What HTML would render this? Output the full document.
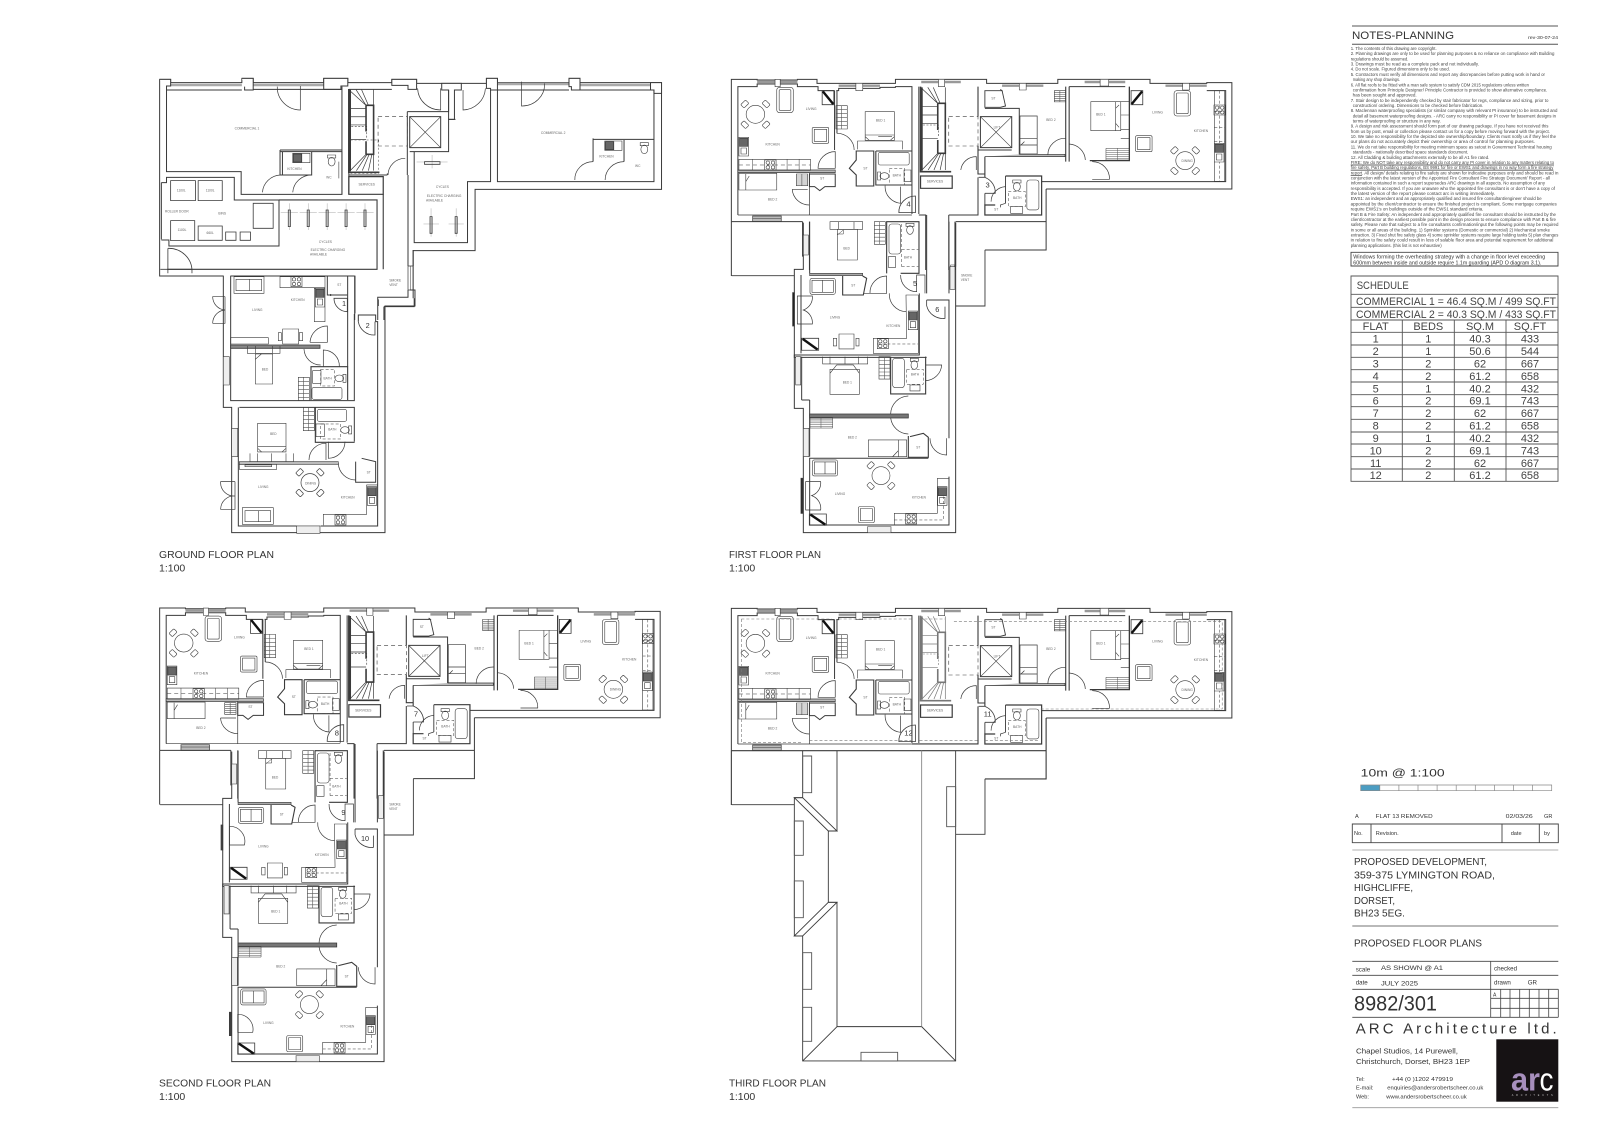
<!DOCTYPE html>
<html><head><meta charset="utf-8"><title>8982/301 Proposed Floor Plans</title>
<style>
html,body{margin:0;padding:0;background:#fff}
svg{display:block}
svg *{vector-effect:non-scaling-stroke}
text{font-family:"Liberation Sans",sans-serif;stroke:none;fill:#333}
.p text{fill:#666;font-size:9.5px;text-anchor:middle}
.p text.b{fill:#333;font-size:22px}
defs text{fill:#666;font-size:9.5px;text-anchor:middle}
.n{font-size:4.4px;fill:#444}
.m{fill:#333}
.s text{fill:#444}
</style></head><body>
<svg width="1600" height="1130" viewBox="0 0 1600 1130" xmlns="http://www.w3.org/2000/svg">
<rect width="1600" height="1130" fill="#fff"/>
<defs>
<g id="din"><circle r="27"/><rect x="-10" y="-7" width="20" height="14" rx="3" transform="translate(31,-31) rotate(45)"/><rect x="-10" y="-7" width="20" height="14" rx="3" transform="translate(-31,-31) rotate(-45)"/><rect x="-10" y="-7" width="20" height="14" rx="3" transform="translate(31,31) rotate(-45)"/><rect x="-10" y="-7" width="20" height="14" rx="3" transform="translate(-31,31) rotate(45)"/></g>
<g id="sofaV"><rect width="48" height="76" rx="8" fill="#fff"/><rect x="7" y="7" width="34" height="62" rx="3"/></g>
<g id="sofaH"><rect width="76" height="48" rx="6" fill="#fff"/><rect x="6" y="6" width="64" height="36"/><path d="M38,6V42"/></g>
<g id="chair"><rect width="48" height="48" rx="4" fill="#fff"/><rect x="6" y="6" width="36" height="36"/></g>
<g id="hob"><rect width="33" height="30"/><circle cx="9" cy="8" r="5"/><circle cx="24" cy="8" r="5"/><circle cx="9" cy="22" r="5"/><circle cx="24" cy="22" r="5"/></g>
<g id="sink"><rect width="28" height="56" fill="#fff"/><rect x="2" y="3" width="24" height="24" fill="#666"/><rect x="6" y="32" width="16" height="18"/></g>
<g id="wc"><rect x="-12" y="-20" width="24" height="9"/><ellipse rx="10" ry="13"/></g>
<g id="rack"><rect width="33" height="70"/><path d="M0,12H33M0,24H33M0,36H33M0,48H33M0,60H33M16,0V70" stroke="#555"/></g>
<g id="flue"><rect width="34" height="42"/><path d="M2,2L32,40" stroke="#111" stroke-width="2.4"/></g>
<g id="bed"><rect width="85" height="86"/><path d="M0,70H85M0,75L12,86M85,75L73,86"/></g>

<g id="stairs">
<path d="M583,50V305H672M633,100H655V250H633M587,52V302M633,100V180M633,210V250" stroke-width="1.6"/>
<path d="M587,56L633,100M604,52L633,100M620,52L640,100M655,52V100M587,110H633M587,135H633M587,160H633M587,205H633M587,300L633,250M605,300L636,250M622,300L642,250M640,300L650,250M655,300V250" stroke-width=".7"/>
<path d="M590,165H635V200" stroke-dasharray="2 1.5" stroke-width=".6"/>
</g>

<!-- common upper block of flats, reference grid of first floor -->
<g id="U">
<path d="M33,455V28H108V30H225V28H282V40H510V28H775V40H982V28H1250V40H1415V38H1488V357H948" stroke-width="1"/>
<path d="M52,435V50H108V42H225V50H285V62H333M338,62H345V55H465V52H510V50H558V432M578,50V432" stroke-width="1"/>
<path d="M108,36H225M345,47H465M585,36H700M820,47H940M1060,36H1178M1295,47H1415" stroke="#999" stroke-width="2.4"/>
<path d="M160,28h15v22h-15zM395,40h20v22h-20zM635,28h18v22h-18zM870,40h20v20h-20zM1105,28h25v20h-25zM1345,40h20v20h-20z" fill="#fff" stroke-width=".6"/>
<path d="M333,62V240M340,62V190" stroke-width="1"/>
<path d="M52,300H335V308H52zM260,308V435M52,435H558M95,438H178V455H95z" fill="#bbb" stroke-width=".7"/>
<path d="M96,445H178" stroke-width=".5"/>
<use href="#din" x="103" y="133" stroke-width=".6"/>
<use href="#sofaV" x="165" y="52" stroke-width=".6"/>
<use href="#flue" x="297" y="62"/>
<use href="#rack" x="337" y="107" stroke-width=".6"/>
<use href="#chair" x="268" y="172" stroke-width=".6"/>
<use href="#bed" x="422" y="125" stroke-width=".6"/>
<path d="M400,238V213H530V238M460,200H500" stroke-width=".6"/>
<rect x="55" y="268" width="208" height="33" stroke-width=".6"/>
<path d="M55,285H263" stroke-dasharray="4 3" stroke-width=".5"/>
<path d="M95,268V301M195,268V301M230,268V301" stroke-width=".5"/>
<use href="#hob" x="130" y="270" stroke-width=".6"/>
<use href="#sink" x="55" y="202" stroke-width=".6"/>
<path d="M55,310H165V360H55zM75,312V360M85,318L75,335" stroke-width=".6"/>
<use href="#rack" transform="translate(222,312) scale(1,.5)" stroke-width=".6"/>
<path d="M260,312H335V350H305L290,362L275,350H260z" stroke-width="1"/>
<path d="M285,295A50,50 0 0 1 335,245V295zM340,190A50,50 0 0 1 390,240" stroke-width=".7"/>
<path d="M210,358A50,50 0 0 0 260,405M210,358H255" stroke-width=".7"/>
<path d="M396,243H447V348H396V315L376,295L396,270z" stroke-width="1.1"/>
<path d="M453,243H558M453,243V345H558" stroke-width="1.1"/>
<rect x="460" y="247" width="90" height="38" rx="6" stroke-width=".6"/>
<use href="#wc" transform="translate(478,318) rotate(-90)" stroke-width=".6"/>
<rect x="535" y="300" width="20" height="35" stroke-width=".6"/>
<rect x="492" y="295" width="45" height="50" stroke-dasharray="3 2" stroke-width=".5"/>
<path d="M480,347A50,50 0 0 0 525,400V350" stroke-width=".7"/>
<path d="M520,428A48,48 0 0 1 568,378V428z" stroke-width=".8"/>

<!-- core -->
<rect x="665" y="140" width="85" height="88" stroke-dasharray="4 3" stroke-width=".6"/>
<path d="M750,50V140M750,228V312H770V322M770,260V322" stroke-width="1.1"/>
<rect x="757" y="140" width="91" height="93" stroke-width="1"/>
<path d="M757,140L848,233M848,140L757,233" stroke-width=".6"/>
<path d="M770,115H870V255M750,240H848" stroke-width="1"/>
<path d="M700,300A45,45 0 0 1 745,260V300" stroke-width=".7"/>
<rect x="583" y="318" width="92" height="37" stroke-width="1.2"/>

<!-- right flat -->
<path d="M770,62H820L830,108L815,112H770zM815,58L822,64" stroke-width=".9"/>
<path d="M872,138H922V252H872zM872,205H922M872,225H922M885,215L875,225" stroke-width=".7"/>
<use href="#rack" transform="translate(972,62) scale(1,.48)" stroke-width=".6"/>
<path d="M770,260H1003V253H870" fill="#bbb" stroke-width=".7"/>
<path d="M1005,50V275M1015,50V275" stroke-width="1.1"/>
<path d="M1005,205A50,50 0 0 0 953,255M1015,222A50,50 0 0 1 1062,270M1082,275A50,50 0 0 1 1132,328H1082" stroke-width=".7"/>
<path d="M1015,50H1178" stroke-width="1"/>
<path d="M1078,95H1165V182H1078zM1150,95V182M1160,105L1150,115M1160,172L1150,160" stroke-width=".6"/>
<path d="M1165,95H1190V205H1165M1165,135H1190M1165,178H1190" stroke-width=".6"/>
<use href="#rack" transform="translate(1122,235) scale(2.06,.5)" stroke-width=".5"/>
<path d="M1190,50V272H1075" stroke-width="1.3"/>
<use href="#flue" transform="translate(1229,62) scale(-1,1)"/>
<use href="#sofaV" x="1320" y="62" stroke-width=".6"/>
<use href="#chair" x="1208" y="197" stroke-width=".6"/>
<use href="#din" x="1352" y="272" stroke-width=".6"/>
<rect x="1437" y="62" width="30" height="272" stroke-width=".6"/>
<path d="M1437,125H1467M1437,172H1467M1437,215H1467M1452,62V335" stroke-width=".5" stroke-dasharray="3 2"/>
<use href="#hob" x="1436" y="105" stroke-width=".6"/>
<use href="#sink" x="1437" y="220" stroke-width=".6"/>
<path d="M935,335H1470V62H1415" stroke-width="1"/>
<path d="M830,318H935V435H770V405H800" stroke-width="1.2"/>
<path d="M830,318V400M770,405V370" stroke-width=".9"/>
<path d="M752,322H770A48,48 0 0 1 800,370H770" stroke-width=".8"/>
<rect x="892" y="330" width="35" height="90" rx="8" stroke-width=".6"/>
<use href="#wc" x="863" y="350" stroke-width=".6"/>
<rect x="845" y="410" width="35" height="20" stroke-width=".6"/>
<rect x="838" y="365" width="50" height="45" stroke-dasharray="3 2" stroke-width=".5"/>
<path d="M788,395A45,45 0 0 1 830,350M830,400L815,405V412" stroke-width=".7"/>
</g>

<g id="Ul">
<text x="265" y="120">LIVING</text><text x="467" y="154">BED 1</text><text x="153" y="227">KITCHEN</text><text x="297" y="328">ST</text><text x="423" y="298">ST</text><text x="514" y="319">BATH</text><text x="153" y="391">BED 2</text><text x="625" y="338">SERVICES</text><text x="795" y="88">ST</text><text x="962" y="153">BED 2</text><text x="805" y="175">LIFT</text><text x="1107" y="137">BED 1</text><text x="1272" y="131">LIVING</text><text x="1398" y="186">KITCHEN</text><text x="1358" y="276">DINING</text><text x="864" y="387">BATH</text><text x="803" y="422">ST</text>
</g>

<!-- wing, first-floor reference grid -->
<g id="W">
<path d="M100,38V178H73V595H100V968H557V38" stroke-width="1"/>
<path d="M537,290V685M537,800V945H119V745H475M119,740V620M95,570V440M93,255V195M119,190V35M93,255V430M470,15V250M470,270H537V290" stroke-width="1"/>
<path d="M448,250V435H73V442H470" stroke-width="1"/>
<path d="M537,35V250M557,38V170" stroke-width="1"/>
<path d="M119,570V620M95,570H119" stroke-width="1"/>
<path d="M77,440H92V525H77zM100,655H117V740H100zM293,950H363V968H293zM100,75H115V135H100zM540,170H555V238H540z" fill="#eee" stroke-width=".6"/>
<path d="M119,190H278V197H119z" fill="#aaa" stroke-width=".6"/>
<path d="M180,35H278V58H180zM205,35V58M252,35V58" stroke-width=".6"/>
<rect x="202" y="58" width="60" height="92" stroke-width=".6"/>
<path d="M202,75L220,60M202,72H220V60" stroke-width=".5"/>
<use href="#rack" transform="translate(313,35) scale(1,.97)" stroke-width=".6"/>
<path d="M350,190V35H447V190H392" stroke-width="1.1"/>
<rect x="357" y="42" width="35" height="90" rx="8" stroke-width=".6"/>
<use href="#wc" x="420" y="60" stroke-width=".6"/>
<rect x="355" y="140" width="22" height="32" stroke-width=".6"/>
<path d="M395,118H445M395,170H445M395,42V170" stroke-dasharray="3 2" stroke-width=".5"/>
<path d="M392,195A48,48 0 0 0 440,245V195H465V250" stroke-width=".7"/>
<path d="M218,197V255H280L290,205L278,198" stroke-width="1.1"/>
<path d="M300,250A50,50 0 0 1 350,198V250H280" stroke-width=".7"/>
<path d="M358,250A52,52 0 0 0 408,305" stroke-width=".7"/>
<path d="M408,255H445V430H310V385H410z" stroke-width=".6"/>
<use href="#sink" x="415" y="303" stroke-width=".6"/>
<use href="#hob" x="322" y="386" stroke-width=".6"/>
<path d="M322,402H445" stroke-dasharray="3 2" stroke-width=".5"/>
<use href="#sofaH" x="120" y="205" stroke-width=".6"/>
<use href="#flue" transform="translate(95,385) scale(1.5,.85)"/>
<path d="M207,372H252V417H207zM190,385H200V408H190zM258,385H267V408H258z" stroke-width=".6"/>
<path d="M158,440V462H293V440M180,440V462M225,440V462M265,440V462" stroke-width=".6"/>
<path d="M180,478H268V553H180zM180,490L200,465H250L268,490" stroke-width=".6"/>
<use href="#rack" transform="translate(327,440) scale(1,.96)" stroke-width=".6"/>
<path d="M362,440V552H467V440" stroke-width="1.1"/>
<rect x="368" y="445" width="35" height="88" rx="8" stroke-width=".6"/>
<use href="#wc" x="433" y="465" stroke-width=".6"/>
<rect x="420" y="525" width="30" height="18" stroke-width=".6"/>
<rect x="410" y="478" width="50" height="45" stroke-dasharray="3 2" stroke-width=".5"/>
<path d="M467,465H515A50,50 0 0 1 467,512" stroke-width=".7"/>
<path d="M119,612H415V624H119z" fill="#777" stroke-width=".8"/>
<path d="M415,558A55,55 0 0 0 362,612M362,624A55,55 0 0 0 415,672" stroke-width=".7"/>
<use href="#rack" transform="translate(120,622) scale(2.06,.46)" stroke-width=".5"/>
<path d="M295,690H410V740H295zM385,690V740M368,740L385,722" stroke-width=".6"/>
<path d="M415,678V742H475V682L460,670L420,680" stroke-width="1.1"/>
<path d="M480,685A50,50 0 0 0 530,735V685" stroke-width=".7"/>
<use href="#sofaH" x="127" y="750" stroke-width=".6"/>
<use href="#din" x="333" y="797" stroke-width=".6"/>
<use href="#flue" transform="translate(118,912) scale(1.5,.8)"/>
<use href="#chair" x="265" y="890" stroke-width=".6"/>
<path d="M502,805H537M502,805V910H373V945" stroke-width=".6"/>
<use href="#hob" x="407" y="912" stroke-width=".6"/>
<use href="#sink" x="503" y="830" stroke-width=".6"/>
<path d="M373,930H520V860" stroke-dasharray="3 2" stroke-width=".5"/>
<path d="M470,270V287A50,50 0 0 0 525,325V290" stroke-width=".8"/>
<text x="230" y="119">BED</text><text x="414" y="145">BATH</text><text x="250" y="229">ST</text><text x="195" y="325">LIVING</text><text x="370" y="351">KITCHEN</text><text x="232" y="520">BED 1</text><text x="435" y="497">BATH</text><text x="247" y="686">BED 2</text><text x="445" y="716">ST</text><text x="210" y="855">LIVING</text><text x="447" y="865">KITCHEN</text><text x="590" y="200">SMOKE</text><text x="585" y="213">VENT</text>
</g>
</defs>

<!-- GROUND UPPER -->
<g class="p" transform="translate(150,60) scale(.344,.3333)" fill="none" stroke="#3a3a3a" stroke-width=".8">
<path d="M213,648H28V58H60V68H267V55H300V68H505V55H575V68H703V58H775V70H848V70H905V70H978V55H1010V68H1218V55H1250V68H1455V68H1487V388H945V572H765V715M235,648H595" stroke-width="1"/>
<path d="M60,75H267M300,75H505M1010,72H1218M1250,75H1455" stroke="#aaa" stroke-width="2.6"/>
<path d="M28,58H60V78H48V90M267,55H300V90H275V80M505,55H575V78H555V88H505zM703,58H775V88H750V76H703zM848,70H905V90H885V178H868V90H848zM978,55H1010V90H990V85H978zM1218,55H1250V90H1225V80H1218zM1455,68H1487V100H1465V90H1455z" fill="#fff" stroke-width="1"/>
<path d="M48,90V335H265V403H558V88H505M48,90H267M300,88H505M558,80V403M578,88V403" stroke-width="1"/>
<path d="M437,78V150A68,68 0 0 1 370,80" stroke-width=".7"/>
<path d="M378,270H558M378,275H558M378,270V345H385V275M470,275V345H385M558,275V403" stroke-width="1"/>
<path d="M327,397A55,55 0 0 1 380,345M415,397A55,55 0 0 1 470,345" stroke-width=".7"/>
<rect x="415" y="280" width="50" height="28" stroke-width=".6"/><rect x="417" y="282" width="24" height="24" fill="#666"/>
<use href="#wc" x="528" y="305" stroke-width=".6"/><path d="M549,305V355" stroke-width=".6"/>
<path d="M33,368H48V352H245V420H375V558H55V540H33M33,368V538" stroke-width="1"/>
<path d="M60,362h72v60h-72zM140,362h70v60h-70zM60,482h70v60h-70zM140,498h70v43h-70zM220,516h30v25h-30zM262,516h30v25h-30zM300,430h58v75h-58z" stroke-width=".8"/>
<path d="M375,420H660V628H50M678,403V628" stroke-width="1.1"/>
<path d="M52,565V640M52,565A68,68 0 0 1 122,635M30,628H122M122,640V628" stroke-width=".8"/>
<g stroke-width=".5" stroke="#aaa"><path d="M380,458H430M405,430V510M435,458H485M460,430V510M490,458H540M515,430V510M545,458H595M570,430V510M600,458H650M625,430V510M775,306H865M820,285V325M795,492H840M817,445V530M868,492H912M890,445V530"/></g>
<path d="M402,450h6v50h-6zM457,450h6v50h-6zM512,450h6v50h-6zM567,450h6v50h-6zM622,450h6v50h-6zM798,305h45v8h-45zM814,470h6v50h-6zM887,470h6v50h-6z" stroke-width=".8"/>
<use href="#stairs" transform="translate(-5,38) scale(1,.98)" stroke-width=".8"/>
<path d="M583,240H665V340H583" stroke-dasharray="2 2" stroke-width=".5"/>
<rect x="578" y="350" width="100" height="53" stroke-width="1.2"/>
<path d="M578,345H690M690,345V340M578,88H703" stroke-width="1"/>
<rect x="663" y="170" width="85" height="88" stroke-dasharray="4 3" stroke-width=".6"/>
<rect x="755" y="170" width="90" height="93" stroke-width="1"/>
<path d="M755,170L845,263M845,170L755,263" stroke-width=".6"/>
<path d="M748,155H868V90M748,155V345M748,263V345M755,275H868V178H888" stroke-width="1"/>
<path d="M692,345A50,50 0 0 1 742,295" stroke-width=".7"/>
<path d="M768,275V548H923V365H990V90M1010,90V365H1465V90H1250M1010,90H1218M750,345V618M765,570V618" stroke-width="1"/>
<path d="M750,618H765V690H750z" stroke-width=".7"/><path d="M758,618V690" stroke-width=".5"/>
<path d="M750,690V712H662V780M595,648V780M680,740H768V715M680,740V780" stroke-width="1"/>
<path d="M778,85A67,67 0 0 0 845,150V85M910,90V150A68,68 0 0 0 975,85M1147,70A65,65 0 0 1 1080,138V65" stroke-width=".7"/>
<path d="M1288,238H1465M1288,235V305M1378,240V305" stroke-width="1"/>
<path d="M1235,360A53,53 0 0 1 1288,305M1323,360A55,55 0 0 1 1378,305" stroke-width=".7"/>
<rect x="1322" y="243" width="50" height="28" stroke-width=".6"/><rect x="1324" y="245" width="24" height="24" fill="#666"/>
<use href="#wc" x="1437" y="268" stroke-width=".6"/>
<text x="282" y="209">COMMERCIAL 1</text><text x="420" y="330">KITCHEN</text><text x="520" y="356">WC</text><text x="1172" y="222">COMMERCIAL 2</text><text x="1327" y="292">KITCHEN</text><text x="1418" y="321">WC</text><text x="630" y="377">SERVICES</text><text x="78" y="457">ROLLER DOOR</text><text x="210" y="463">BINS</text><text x="510" y="549">CYCLES</text><text x="517" y="573">ELECTRIC CHARGING</text><text x="490" y="587">AVAILABLE</text><text x="850" y="384">CYCLES</text><text x="855" y="411">ELECTRIC CHARGING</text><text x="827" y="425">AVAILABLE</text><text x="713" y="664">SMOKE</text><text x="708" y="678">VENT</text><text x="91" y="395">1100L</text><text x="175" y="395">1100L</text><text x="93" y="513">1100L</text><text x="175" y="522">660L</text>
</g>

<!-- GROUND WING -->
<g class="p" transform="translate(210,270) scale(.3333)" fill="none" stroke="#3a3a3a" stroke-width=".8">
<path d="M40,17V412H65V788H525V108H615V60H600" stroke-width="1"/>
<path d="M62,17V392H433V132M88,412H433V515M85,412V768H260M332,768H503V155H497V135H445V155M435,17V130M505,88V108M413,17V290" stroke-width="1"/>
<path d="M62,225H330V235H62z" fill="#888" stroke-width=".8"/>
<path d="M72,20H162V70H72zM78,28H155V62H78zM118,28V62" stroke-width=".6"/>
<path d="M210,20H345V53H210zM313,55H345V155H313z" stroke-width=".6"/>
<use href="#hob" x="243" y="20" stroke-width=".6"/><use href="#sink" x="316" y="55" stroke-width=".6"/>
<path d="M352,17V75H412M362,72V78" stroke-width="1"/>
<path d="M372,85A40,40 0 0 0 412,125V85z" stroke-width=".8"/>
<path d="M445,155A48,48 0 0 0 495,195V155" stroke-width=".8"/>
<path d="M218,177H266V222H218zM205,188H214V212H205zM268,188H278V212H268zM62,203H175V222H62z" stroke-width=".6"/>
<path d="M300,217A52,52 0 0 1 352,168V217H300M282,237A50,50 0 0 0 332,285M340,290V240A48,48 0 0 1 388,290" stroke-width=".7"/>
<path d="M303,390V290H413V390" stroke-width="1.1"/>
<rect x="306" y="352" width="90" height="36" rx="6" stroke-width=".6"/>
<use href="#wc" transform="translate(388,325) rotate(90)" stroke-width=".6"/>
<rect x="308" y="302" width="25" height="38" stroke-width=".6"/>
<rect x="332" y="298" width="42" height="50" stroke-dasharray="3 2" stroke-width=".5"/>
<rect x="136" y="252" width="52" height="90" stroke-width=".6"/>
<path d="M112,228V250H210V228M136,228V250M188,228V250M136,268L154,252" stroke-width=".6"/>
<use href="#rack" x="265" y="322" stroke-width=".6"/><path d="M40,260H58V345H40z" fill="#eee" stroke-width=".6"/>
<path d="M45,80V160H8M45,80H8A40,40 0 0 0 45,120A40,40 0 0 0 8,160" stroke-width=".7"/>
<use href="#bed" x="143" y="460" stroke-width=".6"/>
<path d="M120,550V575H250V550M143,550V575M185,550V575M228,550V575" stroke-width=".6"/>
<use href="#rack" x="280" y="412" stroke-width=".6"/>
<path d="M316,412V517H434" stroke-width="1.1"/>
<rect x="322" y="418" width="88" height="36" rx="6" stroke-width=".6"/>
<use href="#wc" transform="translate(405,480) rotate(90)" stroke-width=".6"/>
<rect x="318" y="462" width="25" height="38" stroke-width=".6"/>
<rect x="332" y="462" width="60" height="45" stroke-dasharray="3 2" stroke-width=".5"/>
<path d="M355,515V565A50,50 0 0 0 405,515M297,570A50,50 0 0 1 348,520V570" stroke-width=".7"/>
<path d="M88,575H385V583H88z" fill="#bbb" stroke-width=".6"/>
<path d="M88,583H200V598H88zM105,585H185V590H105z" stroke-width=".6"/>
<path d="M385,580A52,52 0 0 0 437,630" stroke-width=".7"/>
<path d="M437,575V637H497V575L455,565" stroke-width="1"/>
<use href="#din" x="300" y="638" stroke-width=".7"/>
<path d="M97,713H190V763H97zM105,722H182V755H105zM145,722V755" stroke-width=".6"/>
<path d="M75,635H32A40,40 0 0 0 75,678A40,40 0 0 0 32,718H75V635" stroke-width=".7"/>
<path d="M340,766V733H470V645H503V766" stroke-width=".6"/>
<use href="#hob" x="375" y="735" stroke-width=".6"/><use href="#sink" x="472" y="650" stroke-width=".6"/>
<path d="M260,768H330V790H260zM65,475H83V560H65z" fill="#eee" stroke-width=".6"/>
<text x="142" y="123">LIVING</text><text x="263" y="93">KITCHEN</text><text x="165" y="301">BED</text><text x="353" y="328">BATH</text><text x="388" y="48">ST</text><text x="190" y="495">BED</text><text x="367" y="481">BATH</text><text x="476" y="610">ST</text><text x="302" y="643">DINING</text><text x="160" y="654">LIVING</text><text x="413" y="685">KITCHEN</text>
<text class="b" x="402" y="108">1</text><text class="b" x="473" y="174">2</text>
</g>

<!-- FIRST -->
<g class="p" transform="translate(720,70) scale(.344,.3333)" fill="none" stroke="#3a3a3a" stroke-width=".8">
<use href="#U"/><use href="#stairs" stroke-width="1"/><use href="#Ul"/>
<path d="M33,455H240M685,455H948M948,357V540H770M578,435H598V600M665,435H750V322M665,435V600M683,455V600M240,455V560M260,455V600M33,455V618" stroke-width="1"/>
<path d="M670,585h12v20h-12z" stroke-width=".5"/>
<text class="b" x="778" y="353">3</text><text class="b" x="548" y="410">4</text>
</g>
<g class="p" transform="translate(770,210) scale(.3333)" fill="none" stroke="#3a3a3a" stroke-width=".8">
<use href="#W"/>
<path d="M-115,197H73M645,120V288H557" stroke-width=".9"/>
<rect x="68" y="248" width="5" height="100" fill="#222"/><rect x="93" y="805" width="5" height="105" fill="#222"/>
<path d="M82,258H127A40,40 0 0 1 100,300A40,40 0 0 1 127,342H82zM107,815H152A40,40 0 0 1 125,857A40,40 0 0 1 152,900H107z" stroke-width=".7"/>
<text class="b" x="435" y="228">5</text><text class="b" x="502" y="306">6</text>
</g>

<!-- SECOND -->
<g class="p" transform="translate(148.3,598.7) scale(.344,.3333)" fill="none" stroke="#3a3a3a" stroke-width=".8">
<use href="#U"/><use href="#stairs" stroke-width="1.5"/><use href="#Ul"/>
<path d="M33,455H240M685,455H948M948,357V540H770M578,435H598V600M665,435H750V322M665,435V600M683,455V600M240,455V560M260,455V600M33,455V618" stroke-width="1"/>
<text class="b" x="778" y="353">7</text><text class="b" x="548" y="410">8</text>
</g>
<g class="p" transform="translate(198.4,739) scale(.3333)" fill="none" stroke="#3a3a3a" stroke-width=".8">
<use href="#W"/>
<path d="M-115,197H73M645,120V288H557" stroke-width=".9"/>
<rect x="68" y="258" width="5" height="75" fill="#444"/><rect x="93" y="820" width="5" height="70" fill="#444"/>
<path d="M93,262A45,45 0 0 1 138,318H93zM118,826A45,45 0 0 1 163,880H118z" stroke-width=".7"/>
<text class="b" x="435" y="228">9</text><text class="b" x="500" y="306">10</text>
</g>

<!-- THIRD -->
<g class="p" transform="translate(720,599) scale(.344,.3333)" fill="none" stroke="#3a3a3a" stroke-width=".8">
<use href="#U"/><use href="#stairs" stroke="#777" stroke-width=".6"/><use href="#Ul"/>
<path d="M33,455H948M948,357V540H770M750,322V435H558M33,455V618" stroke-width="1.1"/>
<path d="M62,60H325M345,60H560M580,60H655M680,68H970M1000,68H1175M1230,68H1460V330H930M62,60V430H240M260,425H558M580,425H750M770,425H925" stroke="#777" stroke-width=".6" stroke-dasharray="3 2"/>
<text class="b" x="778" y="353">11</text><text class="b" x="548" y="410">12</text>
</g>
<g class="p" transform="translate(780,730) scale(.3333)" fill="none" stroke="#3a3a3a" stroke-width=".9">
<path d="M68,62V203L43,203V618H68V993H527V62" />
<path d="M171,62V303H145V517H171V890L68,993M171,890H425L527,993"/>
<path d="M425,62V890" stroke="#888"/>
<path d="M43,203L145,303H171L68,203zM43,618L145,517H171L68,618z"/>
<path d="M68,78h27v110h-27zM43,273h27v103h-27zM43,453h27v110h-27zM68,668h27v110h-27zM68,832h27v102h-27zM500,170h27v120h-27zM243,967h110v26h-110z" stroke="#555"/>
<path d="M527,313H615V147M-145,224H43"/>
</g>

<!-- plan titles -->
<text x="159" y="558" font-size="10.5" textLength="115" lengthAdjust="spacingAndGlyphs">GROUND FLOOR PLAN</text>
<text x="159" y="571.5" font-size="10.5">1:100</text>
<text x="729" y="558" font-size="10.5" textLength="92" lengthAdjust="spacingAndGlyphs">FIRST FLOOR PLAN</text>
<text x="729" y="571.5" font-size="10.5">1:100</text>
<text x="159" y="1086.5" font-size="10.5" textLength="112" lengthAdjust="spacingAndGlyphs">SECOND FLOOR PLAN</text>
<text x="159" y="1100" font-size="10.5">1:100</text>
<text x="729" y="1086.5" font-size="10.5" textLength="97" lengthAdjust="spacingAndGlyphs">THIRD FLOOR PLAN</text>
<text x="729" y="1100" font-size="10.5">1:100</text>

<!-- notes -->
<path d="M1352,26H1558M1352,44.3H1558" stroke="#555" stroke-width="1" fill="none"/>
<text x="1352" y="39" font-size="11" textLength="102" lengthAdjust="spacingAndGlyphs" class="m">NOTES-PLANNING</text>
<text x="1528" y="39" font-size="4.6" textLength="30" lengthAdjust="spacingAndGlyphs">rev-30-07-24</text>
<g class="n">
<text class="n" lengthAdjust="spacingAndGlyphs" x="1350.7" y="50" textLength="86">1. The contents of this drawing are copyright.</text>
<text class="n" lengthAdjust="spacingAndGlyphs" x="1350.7" y="55.2" textLength="203.7">2. Planning drawings are only to be used for planning purposes &amp; no reliance on compliance with Building</text>
<text class="n" lengthAdjust="spacingAndGlyphs" x="1350.7" y="60.4" textLength="57.7">regulations should be assumed.</text>
<text class="n" lengthAdjust="spacingAndGlyphs" x="1350.7" y="65.5" textLength="128.3">3. Drawings must be read as a complete pack and not individually.</text>
<text class="n" lengthAdjust="spacingAndGlyphs" x="1350.7" y="70.7" textLength="99.3">4. Do not scale. Figured dimensions only to be used.</text>
<text class="n" lengthAdjust="spacingAndGlyphs" x="1350.7" y="75.9" textLength="194.3">5. Contractors must verify all dimensions and report any discrepancies before putting work in hand or</text>
<text class="n" lengthAdjust="spacingAndGlyphs" x="1352.7" y="81.1" textLength="47.3">making any shop drawings.</text>
<text class="n" lengthAdjust="spacingAndGlyphs" x="1350.7" y="86.3" textLength="178.3">6. All flat roofs to be fitted with a man safe system to satisfy CDM 2015 regulations unless written</text>
<text class="n" lengthAdjust="spacingAndGlyphs" x="1352.7" y="91.4" textLength="194.7">confirmation from Principle Designer/ Principle Contractor is provided to show alternative compliance.</text>
<text class="n" lengthAdjust="spacingAndGlyphs" x="1352.7" y="96.6" textLength="64">has been sought and approved.</text>
<text class="n" lengthAdjust="spacingAndGlyphs" x="1350.7" y="101.8" textLength="197.7">7. Stair design to be independently checked by stair fabricator for regs, compliance and sizing, prior to</text>
<text class="n" lengthAdjust="spacingAndGlyphs" x="1352.7" y="107" textLength="130.7">construction/ ordering. Dimensions to be checked before fabrication.</text>
<text class="n" lengthAdjust="spacingAndGlyphs" x="1350.7" y="112.2" textLength="206.7">8. Maclennan waterproofing specialists (or similar company with relevant PI insurance) to be instructed and</text>
<text class="n" lengthAdjust="spacingAndGlyphs" x="1352.7" y="117.3" textLength="203.3">detail all basement waterproofing designs. - ARC carry no responsibility or PI cover for basement designs in</text>
<text class="n" lengthAdjust="spacingAndGlyphs" x="1352.7" y="122.5" textLength="88">terms of waterproofing or structure in any way.</text>
<text class="n" lengthAdjust="spacingAndGlyphs" x="1350.7" y="127.7" textLength="197.7">9. A design and risk assessment should form part of our drawing package. If you have not received this</text>
<text class="n" lengthAdjust="spacingAndGlyphs" x="1350.7" y="132.9" textLength="199.3">from us by post, email or collection please contact us for a copy before moving forward with the project.</text>
<text class="n" lengthAdjust="spacingAndGlyphs" x="1350.7" y="138.1" textLength="205.3">10. We take no responsibility for the depicted site ownership/boundary. Clients must notify us if they feel the</text>
<text class="n" lengthAdjust="spacingAndGlyphs" x="1350.7" y="143.2" textLength="184.3">our plans do not accurately depict their ownership or area of control for planning purposes.</text>
<text class="n" lengthAdjust="spacingAndGlyphs" x="1350.7" y="148.4" textLength="201">11. We do not take responsibility for meeting minimum space as setout in Government Technical housing</text>
<text class="n" lengthAdjust="spacingAndGlyphs" x="1352.7" y="153.6" textLength="115.7">standards - nationally described space standards document.</text>
<text class="n" lengthAdjust="spacingAndGlyphs" x="1350.7" y="158.8" textLength="138.7">12. All Cladding &amp; building attachments externally to be all A1 fire rated.</text>
<text class="n" lengthAdjust="spacingAndGlyphs" x="1350.7" y="164" textLength="203.3">FIRE: We do NOT take any responsibility and do not carry any PI cover in relation to any matters relating to</text>
<text class="n" lengthAdjust="spacingAndGlyphs" x="1350.7" y="169.1" textLength="202.7">fire safety, Part B building regulations, BS 9991 for fire or EWS1 and drawings in no way form a fire strategy</text>
<text class="n" lengthAdjust="spacingAndGlyphs" x="1350.7" y="174.3" textLength="207.7">report. All design/ details relating to fire safety are shown for indicative purposes only and should be read in</text>
<path d="M1350.7,165H1554M1350.7,170.1H1553.4M1350.7,175.3H1362" stroke="#333" stroke-width=".7" fill="none"/>
<text class="n" lengthAdjust="spacingAndGlyphs" x="1350.7" y="179.5" textLength="199.3">conjunction with the latest version of the Appointed Fire Consultant Fire Strategy Document/ Report - all</text>
<text class="n" lengthAdjust="spacingAndGlyphs" x="1350.7" y="184.7" textLength="194.3">information contained in such a report supersedes ARC drawings in all aspects. No assumption of any</text>
<text class="n" lengthAdjust="spacingAndGlyphs" x="1350.7" y="189.9" textLength="204.3">responsibility is accepted. If you are unaware who the appointed fire consultant is or don't have a copy of</text>
<text class="n" lengthAdjust="spacingAndGlyphs" x="1350.7" y="195" textLength="144.3">the latest version of the report please contact arc in writing immediately.</text>
<text class="n" lengthAdjust="spacingAndGlyphs" x="1350.7" y="200.2" textLength="191">EWS1: an independent and an appropriately qualified and insured fire consultant/engineer should be</text>
<text class="n" lengthAdjust="spacingAndGlyphs" x="1350.7" y="205.4" textLength="206">appointed by the client/contractor to ensure the finished project is compliant. Some mortgage companies</text>
<text class="n" lengthAdjust="spacingAndGlyphs" x="1350.7" y="210.6" textLength="132.7">require EWS1's on buildings outside of the EWS1 standard criteria.</text>
<text class="n" lengthAdjust="spacingAndGlyphs" x="1350.7" y="215.8" textLength="205.3">Part B &amp; Fire Safety: An independent and appropriately qualified fire consultant should be instructed by the</text>
<text class="n" lengthAdjust="spacingAndGlyphs" x="1350.7" y="220.9" textLength="205.3">client/contractor at the earliest possible point in the design process to ensure compliance with Part B &amp; fire</text>
<text class="n" lengthAdjust="spacingAndGlyphs" x="1350.7" y="226.1" textLength="207.7">safety. Please note that subject to a fire consultants confirmation/input the following points may be required</text>
<text class="n" lengthAdjust="spacingAndGlyphs" x="1350.7" y="231.3" textLength="199.3">in some or all areas of the building. 1) Sprinkler systems (Domestic or commercial) 2) Mechanical smoke</text>
<text class="n" lengthAdjust="spacingAndGlyphs" x="1350.7" y="236.5" textLength="207.7">extraction. 3) Fixed shut fire safety glass 4) some sprinkler systems require large holding tanks 5) plan changes</text>
<text class="n" lengthAdjust="spacingAndGlyphs" x="1350.7" y="241.7" textLength="202.7">in relation to fire safety could result in loss of salable floor area and potential requirement for additional</text>
<text class="n" lengthAdjust="spacingAndGlyphs" x="1350.7" y="246.8" textLength="91">planning applications. (this list is not exhaustive)</text>
</g>
<rect x="1351" y="252.3" width="207" height="13.7" fill="none" stroke="#444" stroke-width=".9"/>
<text x="1353.3" y="258.6" font-size="5.6" textLength="192" lengthAdjust="spacingAndGlyphs">Windows forming the overheating strategy with a change in floor level exceeding</text>
<text x="1353.3" y="264.6" font-size="5.6" textLength="188" lengthAdjust="spacingAndGlyphs">600mm between inside and outside require 1.1m guarding (APD O diagram 3.1).</text>

<!-- schedule -->
<g fill="none" stroke="#555" stroke-width=".9">
<rect x="1351" y="276" width="207" height="205.3"/>
<path d="M1351,294.3H1558M1351,307.3H1558M1351,320H1558M1351,332.3H1558M1351,345H1558M1351,357.3H1558M1351,369.7H1558M1351,382H1558M1351,394.7H1558M1351,406.7H1558M1351,419.3H1558M1351,432H1558M1351,444H1558M1351,456.7H1558M1351,469H1558"/>
<path d="M1402.3,320V481.3M1454.3,320V481.3M1506,320V481.3"/>
</g>
<g class="s">
<text x="1356.7" y="289" font-size="11" textLength="52" lengthAdjust="spacingAndGlyphs">SCHEDULE</text>
<text x="1356" y="305" font-size="11" textLength="200" lengthAdjust="spacingAndGlyphs">COMMERCIAL 1 = 46.4 SQ.M / 499 SQ.FT</text>
<text x="1356" y="318" font-size="11" textLength="200" lengthAdjust="spacingAndGlyphs">COMMERCIAL 2 = 40.3 SQ.M / 433 SQ.FT</text>
<g font-size="11" text-anchor="middle">
<text x="1375.7" y="330">FLAT</text><text x="1428.3" y="330">BEDS</text><text x="1480" y="330">SQ.M</text><text x="1530" y="330">SQ.FT</text>
<text x="1375.7" y="342.5">1</text><text x="1428.3" y="342.5">1</text><text x="1480" y="342.5">40.3</text><text x="1530" y="342.5">433</text>
<text x="1375.7" y="355">2</text><text x="1428.3" y="355">1</text><text x="1480" y="355">50.6</text><text x="1530" y="355">544</text>
<text x="1375.7" y="367.4">3</text><text x="1428.3" y="367.4">2</text><text x="1480" y="367.4">62</text><text x="1530" y="367.4">667</text>
<text x="1375.7" y="380">4</text><text x="1428.3" y="380">2</text><text x="1480" y="380">61.2</text><text x="1530" y="380">658</text>
<text x="1375.7" y="392.3">5</text><text x="1428.3" y="392.3">1</text><text x="1480" y="392.3">40.2</text><text x="1530" y="392.3">432</text>
<text x="1375.7" y="404.5">6</text><text x="1428.3" y="404.5">2</text><text x="1480" y="404.5">69.1</text><text x="1530" y="404.5">743</text>
<text x="1375.7" y="417">7</text><text x="1428.3" y="417">2</text><text x="1480" y="417">62</text><text x="1530" y="417">667</text>
<text x="1375.7" y="429.5">8</text><text x="1428.3" y="429.5">2</text><text x="1480" y="429.5">61.2</text><text x="1530" y="429.5">658</text>
<text x="1375.7" y="442">9</text><text x="1428.3" y="442">1</text><text x="1480" y="442">40.2</text><text x="1530" y="442">432</text>
<text x="1375.7" y="454.5">10</text><text x="1428.3" y="454.5">2</text><text x="1480" y="454.5">69.1</text><text x="1530" y="454.5">743</text>
<text x="1375.7" y="466.8">11</text><text x="1428.3" y="466.8">2</text><text x="1480" y="466.8">62</text><text x="1530" y="466.8">667</text>
<text x="1375.7" y="479">12</text><text x="1428.3" y="479">2</text><text x="1480" y="479">61.2</text><text x="1530" y="479">658</text>
</g>
</g>

<!-- scale bar -->
<text x="1360.7" y="776.7" font-size="11" textLength="84" lengthAdjust="spacingAndGlyphs">10m @ 1:100</text>
<rect x="1360.7" y="785" width="19.1" height="5.7" fill="#4c9dc2"/>
<path d="M1360.7,785H1551.7V790.7H1360.7zM1379.8,785v5.7M1398.9,785v5.7M1418,785v5.7M1437.1,785v5.7M1456.2,785v5.7M1475.3,785v5.7M1494.4,785v5.7M1513.5,785v5.7M1532.6,785v5.7" fill="none" stroke="#888" stroke-width=".7"/>

<!-- revision -->
<g font-size="5.6" fill="#333">
<text x="1355" y="818">A</text><text x="1375.7" y="818" textLength="57" lengthAdjust="spacingAndGlyphs">FLAT 13 REMOVED</text><text x="1505.7" y="818" textLength="27" lengthAdjust="spacingAndGlyphs">02/03/26</text><text x="1544" y="818">GR</text>
<text x="1354" y="835">No.</text><text x="1375.7" y="835">Revision.</text><text x="1510.7" y="835">date</text><text x="1544" y="835">by</text>
</g>
<path d="M1352.3,824H1558.3V842.7H1352.3zM1371,824V842.7M1502,824V842.7M1539.3,824V842.7" fill="none" stroke="#444" stroke-width=".9"/>
<path d="M1352.3,850H1558.3" stroke="#999" stroke-width=".8"/>
<g font-size="10.5">
<text x="1354" y="865" textLength="133" lengthAdjust="spacingAndGlyphs">PROPOSED DEVELOPMENT,</text>
<text x="1354" y="878.3" textLength="141" lengthAdjust="spacingAndGlyphs">359-375 LYMINGTON ROAD,</text>
<text x="1354" y="891" textLength="59" lengthAdjust="spacingAndGlyphs">HIGHCLIFFE,</text>
<text x="1354" y="904" textLength="41" lengthAdjust="spacingAndGlyphs">DORSET,</text>
<text x="1354" y="916.7" textLength="51" lengthAdjust="spacingAndGlyphs">BH23 5EG.</text>
<text x="1354" y="946.7" textLength="128" lengthAdjust="spacingAndGlyphs">PROPOSED FLOOR PLANS</text>
</g>
<path d="M1352.3,926H1558.3" stroke="#444" stroke-width=".8"/>
<g fill="none" stroke="#444" stroke-width=".8">
<path d="M1352.3,961.3H1558.3M1352.3,975.3H1558.3M1352.3,989.3H1558.3M1352.3,1017.3H1558.3M1490.7,961.3V1017.3M1558.3,989.3V1017.3"/>
<path d="M1490.7,998.3H1558.3M1490.7,1008.3H1558.3M1500.7,989.3V1017.3M1510,989.3V1017.3M1519.7,989.3V1017.3M1529.3,989.3V1017.3M1539,989.3V1017.3M1548.7,989.3V1017.3"/>
</g>
<g font-size="6.2" fill="#444">
<text x="1355.7" y="971.5">scale</text><text x="1381" y="970" textLength="62" lengthAdjust="spacingAndGlyphs">AS SHOWN @ A1</text><text x="1494" y="970.5">checked</text>
<text x="1355.7" y="984.5">date</text><text x="1381" y="985.7" textLength="37" lengthAdjust="spacingAndGlyphs">JULY 2025</text><text x="1494" y="984.5">drawn</text><text x="1527.7" y="984.5">GR</text>
<text x="1493" y="996.7" font-size="5">A</text>
</g>
<text x="1354" y="1010.7" font-size="21" textLength="83" lengthAdjust="spacingAndGlyphs">8982/301</text>
<text x="1355.7" y="1033.3" font-size="15" textLength="201" lengthAdjust="spacing">ARC Architecture ltd.</text>
<rect x="1496.3" y="1039.3" width="62" height="62.4" fill="#161214"/>
<text x="1511" y="1090.5" font-size="32" font-weight="bold" style="fill:#a78fbd" textLength="29" lengthAdjust="spacingAndGlyphs">ar</text>
<text x="1539.5" y="1090.5" font-size="32" style="fill:#fff" textLength="14" lengthAdjust="spacingAndGlyphs">c</text>
<text x="1511.7" y="1095.8" font-size="2.4" style="fill:#ccc" textLength="41" lengthAdjust="spacing">ARCHITECTS</text>
<text x="1356" y="1053.3" font-size="7.4" textLength="102" lengthAdjust="spacingAndGlyphs">Chapel Studios, 14 Purewell,</text>
<text x="1356" y="1064" font-size="7.4" textLength="114" lengthAdjust="spacingAndGlyphs">Christchurch, Dorset, BH23 1EP</text>
<g font-size="5.6">
<text x="1356" y="1081">Tel:</text><text x="1392" y="1081" textLength="61" lengthAdjust="spacingAndGlyphs">+44 (0 )1202 479919</text>
<text x="1356" y="1089.7">E-mail:</text><text x="1387.3" y="1089.7" textLength="96" lengthAdjust="spacingAndGlyphs">enquiries@andersrobertscheer.co.uk</text>
<text x="1356" y="1098.7">Web:</text><text x="1386.3" y="1098.7" textLength="80.4" lengthAdjust="spacingAndGlyphs">www.andersrobertscheer.co.uk</text>
</g>
<path d="M1352.3,1107.7H1558.3" stroke="#999" stroke-width=".8"/>
</svg>
</body></html>
